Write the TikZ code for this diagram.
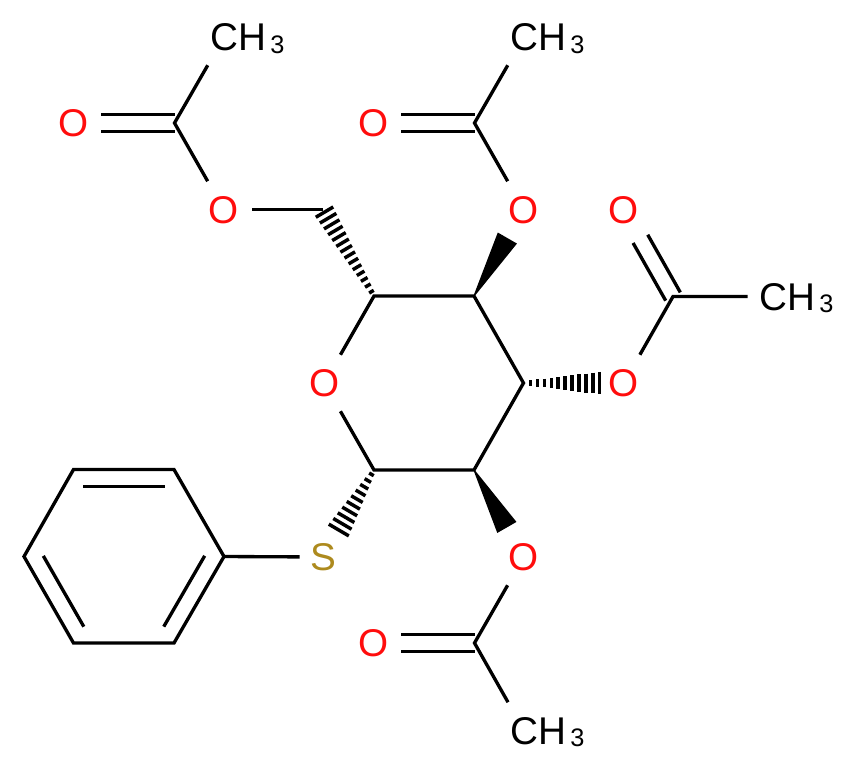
\documentclass[tikz,border=0pt]{standalone}
\usepackage{fontspec}
\setmainfont{Liberation Sans}
\usetikzlibrary{calc}
\definecolor{oxy}{HTML}{FF0D0D}
\definecolor{sul}{HTML}{AD8A1E}
\tikzset{
  bond/.style={line width=2.5pt,draw=black,line cap=butt},
  atom/.style={rectangle,inner sep=0pt,minimum width=42pt,minimum height=42pt,text height=20.8pt,text depth=0pt,font=\fontsize{29}{32}\selectfont},
  oatom/.style={atom,text=oxy,xshift=0.6pt},
  satom/.style={atom,text=sul,minimum width=34.5pt,minimum height=43.5pt},
  methyl/.style={atom,text=black,minimum width=37.5pt},
}
\newcommand{\methylT}{\makebox[0pt][l]{\hspace{-10.4pt}CH\hspace{3.2pt}\raisebox{-1.8pt}{\fontsize{19}{21}\selectfont 3}}}
% double C=O: #1 carbon, #2 oxygen, #3 trim at the oxygen
\newcommand{\dblbond}[3]{%
  \draw[bond,shorten >=#3] ($(#1)!6.3pt!90:(#2)$) -- ($(#2)!6.3pt!-90:(#1)$);
  \draw[bond,shorten >=#3] ($(#1)!6.3pt!-90:(#2)$) -- ($(#2)!6.3pt!90:(#1)$);
}
% inner ring line: #1,#2 ring atoms
\newcommand{\ringinner}[2]{%
  \draw[bond,shorten <=6.8pt,shorten >=6.8pt] ($(#1)!12.8pt!90:(#2)$) -- ($(#2)!12.8pt!-90:(#1)$);
}
% hatch: from, to, t0, t1, n, hw0, hw1 (pt)
\newcommand{\hatchbond}[7]{%
  \foreach \i in {0,...,\numexpr#5-1\relax}{%
    \pgfmathsetmacro{\tt}{#3+(#4-#3)*\i/(#5-1)}%
    \pgfmathsetmacro{\hw}{#6+(#7-#6)*\i/(#5-1)}%
    \draw[line width=2.6pt] ($(#1)!\tt!(#2)!\hw pt!90:(#2)$) -- ($(#1)!\tt!(#2)!\hw pt!-90:(#2)$);
  }%
}
\newcommand{\wedgebond}[3]{%
  \fill ($(#1)!.4pt!90:(#2)$) -- ($(#1)!#3!(#2)!8.3pt!90:(#2)$) -- ($(#1)!#3!(#2)!8.3pt!-90:(#2)$) -- ($(#1)!.4pt!-90:(#2)$) -- cycle;
}
\begin{document}
\begin{tikzpicture}[x=0.75pt,y=-0.75pt]
\useasboundingbox (0,0) rectangle (857,769);
% ring and skeleton carbons
\coordinate (c5) at (374,296);
\coordinate (c4) at (474,296);
\coordinate (c3) at (523.5,383);
\coordinate (c2) at (474,470);
\coordinate (c1) at (374,470);
\coordinate (c6) at (323,209.5);
\coordinate (a6) at (174.5,123);
\coordinate (a4) at (474.5,123);
\coordinate (a3) at (673,296.5);
\coordinate (a2) at (474.5,643);
\coordinate (p1) at (224,556.5);
\coordinate (p2) at (174,469.5);
\coordinate (p3) at (73.5,469.5);
\coordinate (p4) at (24,556.5);
\coordinate (p5) at (73.5,643);
\coordinate (p6) at (174,643);
% heteroatoms
\node[oatom] (o5) at (323.5,383) {O};
\node[satom] (s) at (323,557) {S};
\node[oatom] (o6) at (223,209.5) {O};
\node[oatom] (o4) at (523,209.5) {O};
\node[oatom] (o3) at (623,383) {O};
\node[oatom] (o2) at (523,557) {O};
\node[oatom] (o6d) at (73,123) {O};
\node[oatom] (o4d) at (373,123) {O};
\node[oatom] (o3d) at (623,209.5) {O};
\node[oatom] (o2d) at (373,643) {O};
\node[methyl] (m6) at (224,37) {\methylT};
\node[methyl] (m4) at (524,37) {\methylT};
\node[methyl] (m3) at (773,296.5) {\methylT};
\node[methyl] (m2) at (524,730.5) {\methylT};
% ring bonds
\draw[bond,line join=miter] (o5) -- (c5) -- (c4) -- (c3) -- (c2) -- (c1) -- (o5);
% acetates
\draw[bond] (o6) -- (c6);
\draw[bond] (o6) -- (a6) -- (m6);
\draw[bond] (o4) -- (a4) -- (m4);
\draw[bond] (o3) -- (a3) -- (m3);
\draw[bond] (o2) -- (a2) -- (m2);
\dblbond{a6}{o6d}{20.3pt}
\dblbond{a4}{o4d}{20.3pt}
\dblbond{a3}{o3d}{25.3pt}
\dblbond{a2}{o2d}{20.3pt}
% stereo bonds
\hatchbond{c5}{c6}{.05}{.97}{14}{2}{7.6}
\hatchbond{c3}{o3}{.07}{.76}{11}{2}{8.4}
\hatchbond{c1}{s}{.05}{.69}{10}{2}{8.7}
\wedgebond{c4}{o4}{.67}
\wedgebond{c2}{o2}{.66}
% phenyl
\draw[bond,line join=miter] (p1) -- (p2) -- (p3) -- (p4) -- (p5) -- (p6) -- cycle;
\draw[bond] (s) -- (p1);
\ringinner{p2}{p3}
\ringinner{p4}{p5}
\ringinner{p6}{p1}
\end{tikzpicture}
\end{document}
